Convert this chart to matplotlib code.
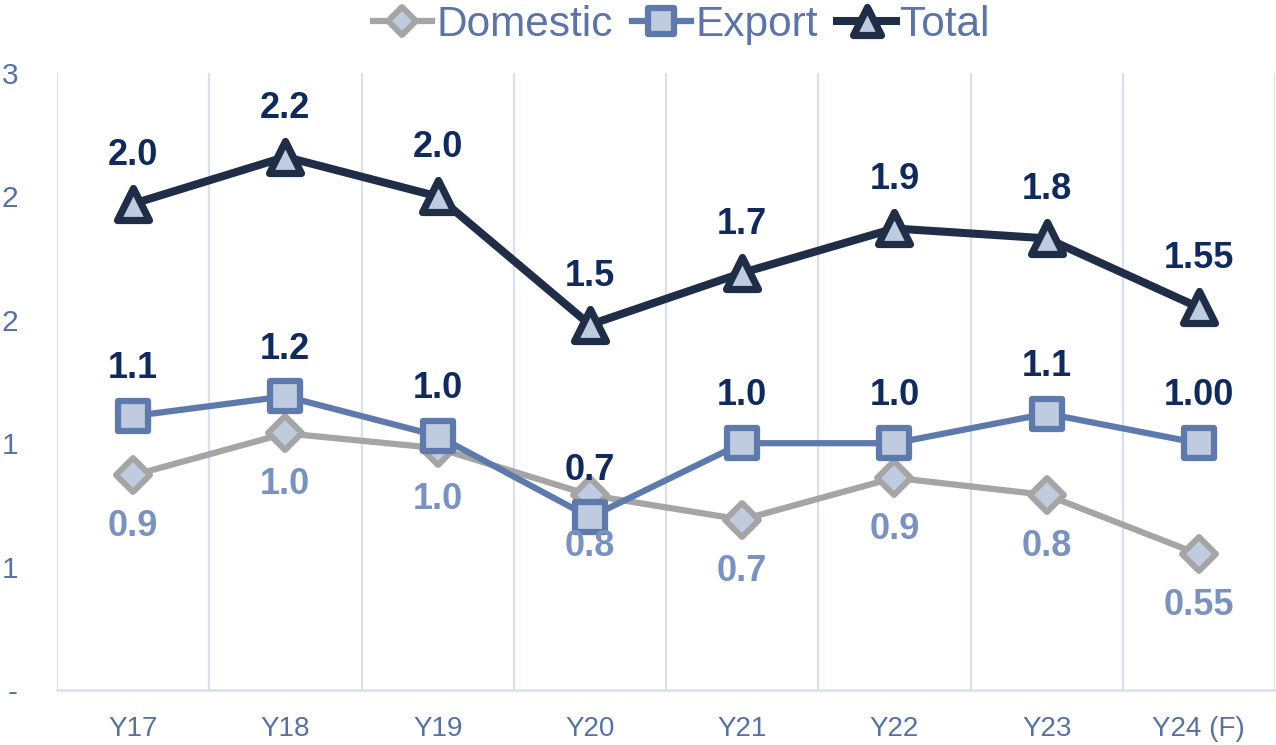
import numpy as np
import matplotlib.pyplot as plt
from matplotlib.markers import MarkerStyle

plt.rcParams['font.family'] = ['Liberation Sans', 'DejaVu Sans']

years = ["Y17", "Y18", "Y19", "Y20", "Y21", "Y22", "Y23", "Y24 (F)"]
domestic = [0.87, 1.04, 0.98, 0.79, 0.69, 0.86, 0.79, 0.55]
export = [1.11, 1.19, 1.03, 0.70, 1.00, 1.00, 1.12, 1.00]
total = [1.97, 2.16, 2.00, 1.48, 1.69, 1.87, 1.83, 1.55]
yticks = [0, 0.5, 1.0, 1.5, 2.0, 2.5]
ytick_labels = ["-", "1", "1", "2", "2", "3"]

fill = "#BFCBDF"
grid_c = "#D9DFEB"
tick_c = "#5671A6"
dark_lbl = "#102A5E"
light_lbl = "#7A92C0"

fig = plt.figure(figsize=(12.76, 7.45), dpi=100)
ax = fig.add_axes([57/1276, 55/745, 1218/1276, 617/745])
x = np.arange(len(years))

def mk(m):
    return MarkerStyle(m, joinstyle='round')

ax.plot(x, domestic, color="#A5A5A5", lw=4.5, marker=mk('D'), ms=17,
        mfc=fill, mec="#A5A5A5", mew=4.3, label="Domestic", zorder=3,
        solid_joinstyle='round')
ax.plot(x, export, color="#5E7AAD", lw=4.5, marker=mk('s'), ms=21.5,
        mfc=fill, mec="#5E7AAD", mew=4.5, label="Export", zorder=4,
        solid_joinstyle='round')
ax.plot(x, total, color="#1F2D47", lw=5.8, marker=mk('^'), ms=23,
        mfc=fill, mec="#1F2D47", mew=5.2, label="Total", zorder=5,
        solid_joinstyle='round')

def fmt(i, v):
    return f"{v:.2f}" if i == len(years) - 1 else f"{v:.1f}"

for i, v in enumerate(total):
    ax.annotate(fmt(i, v), (i, v), xytext=(0, 35), textcoords='offset points',
                ha='center', va='center', fontsize=26, fontweight='bold',
                color=dark_lbl, zorder=6)
for i, v in enumerate(export):
    ax.annotate(fmt(i, v), (i, v), xytext=(0, 34), textcoords='offset points',
                ha='center', va='center', fontsize=26, fontweight='bold',
                color=dark_lbl, zorder=6)
for i, v in enumerate(domestic):
    ax.annotate(fmt(i, v), (i, v), xytext=(0, -37), textcoords='offset points',
                ha='center', va='center', fontsize=26, fontweight='bold',
                color=light_lbl, zorder=6)

ax.set_xlim(-0.5, len(years) - 0.5)
ax.set_ylim(0, 2.5)
ax.set_xticks(x)
ax.set_xticklabels(years)
ax.set_yticks(yticks)
ax.set_yticklabels(ytick_labels)
ax.set_xticks(np.arange(-0.5, len(years), 1), minor=True)
ax.grid(which='minor', axis='x', color=grid_c, lw=1.6)
ax.tick_params(axis='both', which='both', length=0, labelcolor=tick_c)
ax.tick_params(axis='x', pad=19, labelsize=20)
ax.tick_params(axis='y', pad=28, labelsize=21.5)
for s in ['top', 'right', 'left']:
    ax.spines[s].set_visible(False)
ax.spines['bottom'].set_color(grid_c)
ax.spines['bottom'].set_linewidth(1.8)

leg = fig.legend(loc='upper center', bbox_to_anchor=(0.534, 1.045), ncol=3,
                 frameon=False, fontsize=30.5, handlelength=1.4,
                 handletextpad=0.1, columnspacing=0.45, markerscale=0.85)
for t in leg.get_texts():
    t.set_color("#5B75AB")

fig.savefig("out.png", dpi=100)
